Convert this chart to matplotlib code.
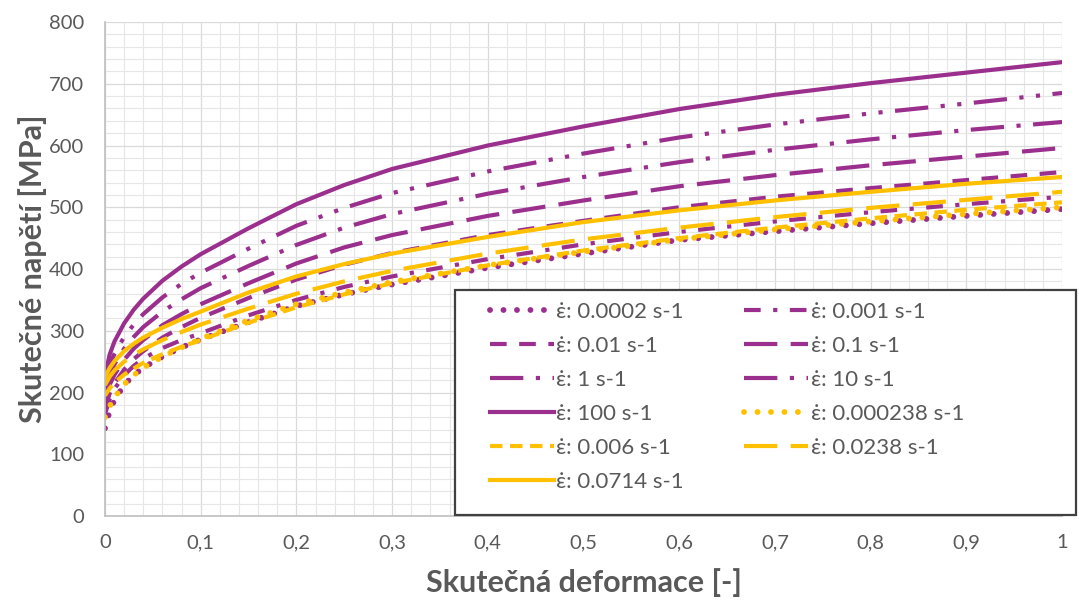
import matplotlib
matplotlib.use('Agg')
import matplotlib.pyplot as plt
from matplotlib.patches import Rectangle
from matplotlib.ticker import MultipleLocator, FuncFormatter

plt.rcParams['font.family'] = ['Lato', 'DejaVu Sans']

# skutečná deformace
deformace = [0, 0.005, 0.01, 0.02, 0.03, 0.04, 0.06, 0.08, 0.1, 0.15, 0.2, 0.25,
             0.3, 0.4, 0.5, 0.6, 0.7, 0.8, 0.9, 1.0]

# skutečné napětí [MPa] pro jednotlivé rychlosti deformace
s_0_0002 = [142, 170, 188, 212, 228, 240, 258, 273, 286, 314, 340, 359, 375, 402, 425, 447, 461, 474, 486, 497]
s_0_001 = [165, 190, 206, 228, 243, 255, 272, 285, 296, 325, 350, 371, 388, 416, 440, 460, 477, 492, 505, 517]
s_0_01 = [175, 199, 215, 237, 254, 267, 289, 306, 321, 353, 383, 407, 426, 455, 478, 500, 517, 531, 544, 557]
s_0_1 = [188, 213, 229, 253, 271, 285, 309, 327, 343, 377, 409, 435, 455, 486, 511, 534, 552, 568, 582, 596]
s_1 = [200, 228, 246, 271, 290, 306, 331, 351, 369, 405, 439, 467, 489, 522, 549, 573, 593, 610, 625, 638]
s_10 = [212, 244, 263, 290, 310, 327, 354, 376, 394, 433, 470, 499, 523, 558, 587, 613, 634, 652, 668, 685]
s_100 = [228, 262, 283, 312, 334, 352, 381, 404, 424, 466, 505, 536, 562, 600, 631, 659, 682, 701, 718, 735]
s_0_000238 = [160, 178, 192, 213, 228, 240, 258, 273, 287, 317, 343, 362, 379, 406, 428, 448, 464, 477, 489, 500]
s_0_006 = [195, 207, 216, 229, 239, 248, 262, 274, 285, 313, 338, 359, 377, 406, 430, 450, 467, 482, 496, 508]
s_0_0238 = [212, 226, 236, 250, 261, 270, 285, 298, 310, 336, 360, 380, 397, 425, 448, 467, 484, 499, 512, 525]
s_0_0714 = [225, 240, 251, 267, 279, 289, 305, 319, 331, 362, 388, 408, 425, 452, 476, 495, 511, 525, 538, 549]

popisky = ['0.0002', '0.001', '0.01', '0.1', '1', '10', '100',
           '0.000238', '0.006', '0.0238', '0.0714']
krivky = [s_0_0002, s_0_001, s_0_01, s_0_1, s_1, s_10, s_100,
          s_0_000238, s_0_006, s_0_0238, s_0_0714]

fialova = '#9B2F8E'
zluta = '#FFC000'
barvy = [fialova] * 7 + [zluta] * 4
styly = ['dot', (0, (4, 3, 1, 3)), (0, (4, 3)), (0, (8, 3.2)),
         (0, (8, 3, 1, 3)), (0, (8, 3, 1, 3, 1, 3)), '-',
         'dot', (0, (3, 1.8)), (0, (8, 3.2)), '-']

fig = plt.figure(figsize=(10.79, 6.01), dpi=100)
ax = fig.add_axes([0.0973, 0.1414, 0.8870, 0.8220])

car = []
for y, lab, c, ls in zip(krivky, popisky, barvy, styly):
    if ls == 'dot':
        l, = ax.plot(deformace, y, color=c, linestyle=(0, (0.01, 2.3)), lw=4.2,
                     dash_capstyle='round', label='\u03b5\u0307: ' + lab + ' s-1')
    else:
        l, = ax.plot(deformace, y, color=c, linestyle=ls, lw=3.0,
                     dash_capstyle='butt', label='\u03b5\u0307: ' + lab + ' s-1')
    car.append(l)

ax.set_xlim(0, 1)
ax.set_ylim(0, 800)
ax.xaxis.set_major_locator(MultipleLocator(0.1))
ax.xaxis.set_minor_locator(MultipleLocator(0.02))
ax.yaxis.set_major_locator(MultipleLocator(100))
ax.yaxis.set_minor_locator(MultipleLocator(20))
ax.xaxis.set_major_formatter(FuncFormatter(lambda v, p: '0' if v == 0 else ('1' if v == 1 else f'{v:.1f}'.replace('.', ','))))
ax.grid(which='major', color='#dadada', lw=0.9)
ax.grid(which='minor', color='#e6e6e6', lw=0.8)
ax.set_axisbelow(True)
for s in ['top', 'right']:
    ax.spines[s].set_visible(False)
for s in ['left', 'bottom']:
    ax.spines[s].set_color('#bfbfbf')
    ax.spines[s].set_linewidth(1.2)
ax.tick_params(which='both', length=0, colors='#595959', labelsize=14.5)
ax.tick_params(axis='y', pad=15)
ax.tick_params(axis='x', pad=13)

ax.set_xlabel('Skutečná deformace [-]', fontsize=22, fontweight='bold', color='#595959', labelpad=12)
ax.set_ylabel('Skutečné napětí [MPa]', fontsize=22, fontweight='bold', color='#595959')
ax.yaxis.set_label_coords(-0.061, 0.50)

# rámeček legendy (přesahuje vpravo za graf)
ramecek = Rectangle((0.366, 0.002), 0.649, 0.455, transform=ax.transAxes,
                    facecolor='white', edgecolor='#404040', lw=1.6,
                    clip_on=False, zorder=4)
ax.add_patch(ramecek)

# legenda po řádcích jako v Excelu
poradi = [0, 2, 4, 6, 8, 10, 1, 3, 5, 7, 9]
leg = ax.legend([car[i] for i in poradi], [car[i].get_label() for i in poradi],
                loc='upper left', bbox_to_anchor=(0.402, 0.434),
                ncol=2, fontsize=16, handlelength=2.9, handletextpad=0.1,
                labelspacing=0.63, columnspacing=2.7, borderaxespad=0,
                borderpad=0, frameon=False)
leg.set_zorder(5)
for t in leg.get_texts():
    t.set_color('#595959')

fig.savefig('out.png', dpi=100)
